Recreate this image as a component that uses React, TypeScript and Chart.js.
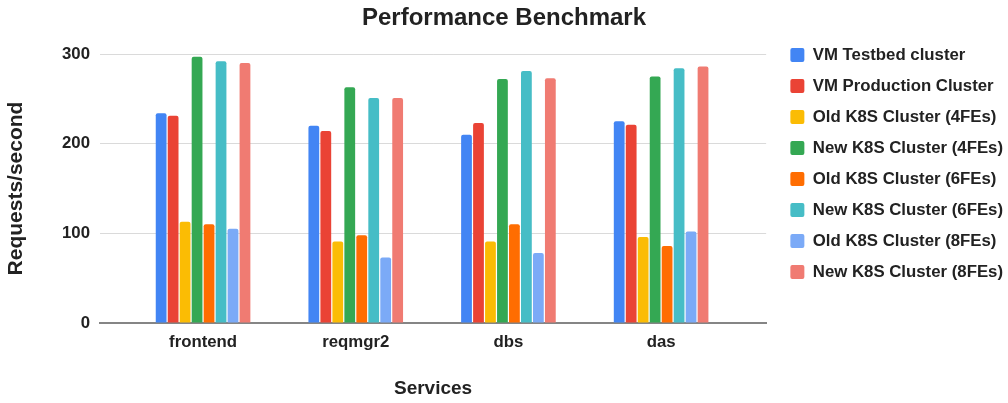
import React, { useEffect, useRef } from "react";
import { Chart, registerables } from "chart.js";

Chart.register(...registerables);

const categories = ["frontend", "reqmgr2", "dbs", "das"];
const seriesLabels = [
  "VM Testbed cluster",
  "VM Production Cluster",
  "Old K8S Cluster (4FEs)",
  "New K8S Cluster (4FEs)",
  "Old K8S Cluster (6FEs)",
  "New K8S Cluster (6FEs)",
  "Old K8S Cluster (8FEs)",
  "New K8S Cluster (8FEs)",
];
const vmTestbed = [234, 220, 210, 225];
const vmProduction = [231, 214, 223, 221];
const oldK8s4 = [113, 91, 91, 96];
const newK8s4 = [297, 263, 272, 275];
const oldK8s6 = [110, 98, 110, 86];
const newK8s6 = [292, 251, 281, 284];
const oldK8s8 = [105, 73, 78, 102];
const newK8s8 = [290, 251, 273, 286];
const seriesValues = [vmTestbed, vmProduction, oldK8s4, newK8s4, oldK8s6, newK8s6, oldK8s8, newK8s8];
const seriesColors = ["#4285F4", "#EA4335", "#FBBC04", "#34A853", "#FF6D01", "#46BDC6", "#7BAAF7", "#F07B72"];
const yTicks = [0, 100, 200, 300];

const FONT = "Arial, 'Liberation Sans', sans-serif";

// nudges the legend away from the plot and re-centres the title on the full width
const layoutTweak = {
  id: "layoutTweak",
  afterLayout(chart: any) {
    const l = chart.legend;
    if (l) {
      l.left += 10;
      l.right += 10;
    }
    const t = chart.titleBlock;
    if (t) {
      t.right += 5;
    }
  },
};

export default function App() {
  const canvasRef = useRef<HTMLCanvasElement | null>(null);

  useEffect(() => {
    if (!canvasRef.current) return;
    const chart = new Chart(canvasRef.current, {
      type: "bar",
      data: {
        datasets: seriesLabels.map((label, si) => ({
          label,
          data: seriesValues[si].map((v, i) => ({ x: i, y: v })),
          backgroundColor: seriesColors[si],
          borderWidth: 0,
          borderRadius: { topLeft: 2, topRight: 2, bottomLeft: 0, bottomRight: 0 },
          barPercentage: 0.9,
          categoryPercentage: 0.6275,
        })),
      },
      plugins: [layoutTweak],
      options: {
        animation: false,
        responsive: true,
        maintainAspectRatio: false,
        layout: { padding: { top: 0, right: 5, bottom: 0, left: 0 } },
        plugins: {
          tooltip: { enabled: false },
          title: {
            display: true,
            text: "Performance Benchmark",
            color: "#222",
            font: { family: FONT, size: 24, weight: "bold" },
            padding: { top: 3.6, bottom: 0 },
          },
          legend: {
            display: true,
            position: "right",
            align: "start",
            title: { display: true, text: "", font: { size: 10 }, padding: { top: 0, bottom: 20.4 } },
            labels: {
              boxWidth: 14,
              boxHeight: 14,
              padding: 14.2,
              color: "#222",
              useBorderRadius: true,
              borderRadius: 2,
              font: { family: FONT, size: 16.8, weight: "bold" },
            },
          },
        },
        scales: {
          x: {
            type: "linear",
            position: "bottom",
            min: -0.675,
            max: 3.688,
            offset: false,
            grid: { display: false, drawTicks: false },
            border: { display: true, color: "#858585", width: 2 },
            ticks: {
              stepSize: 1,
              includeBounds: false,
              autoSkip: false,
              maxRotation: 0,
              padding: 9,
              color: "#222",
              font: { family: FONT, size: 16.8, weight: "bold" },
              callback: (v: any) => (Number.isInteger(v) && categories[v] !== undefined ? categories[v] : ""),
            },
            title: {
              display: true,
              text: "Services",
              color: "#222",
              font: { family: FONT, size: 19, weight: "bold" },
              padding: { top: 0, bottom: 3 },
            },
            afterFit: (s: any) => {
              s.height = 80;
            },
          },
          xTop: {
            type: "linear",
            axis: "x",
            position: "top",
            display: true,
            grid: { display: false, drawTicks: false },
            border: { display: false },
            ticks: { display: false },
            afterFit: (s: any) => {
              s.height = 21.6;
            },
          },
          y: {
            type: "linear",
            min: 0,
            max: 300,
            afterBuildTicks: (s: any) => {
              s.ticks = yTicks.map((v) => ({ value: v }));
            },
            grid: {
              drawTicks: false,
              color: (ctx: any) => (ctx.tick && ctx.tick.value === 0 ? "rgba(0,0,0,0)" : "#dadada"),
              lineWidth: 1,
            },
            border: { display: false },
            ticks: {
              padding: 10,
              color: "#222",
              font: { family: FONT, size: 16.8, weight: "bold" },
            },
            title: {
              display: true,
              text: "Requests/second",
              color: "#222",
              font: { family: FONT, size: 21, weight: "bold" },
              padding: { top: 4, bottom: 0 },
            },
            afterFit: (s: any) => {
              s.width = 100;
            },
          },
        },
      } as any,
    });
    return () => chart.destroy();
  }, []);

  return (
    <div style={{ position: "absolute", left: 0, top: 0, width: 1008, height: 403, background: "#fff" }}>
      <canvas ref={canvasRef} />
    </div>
  );
}
